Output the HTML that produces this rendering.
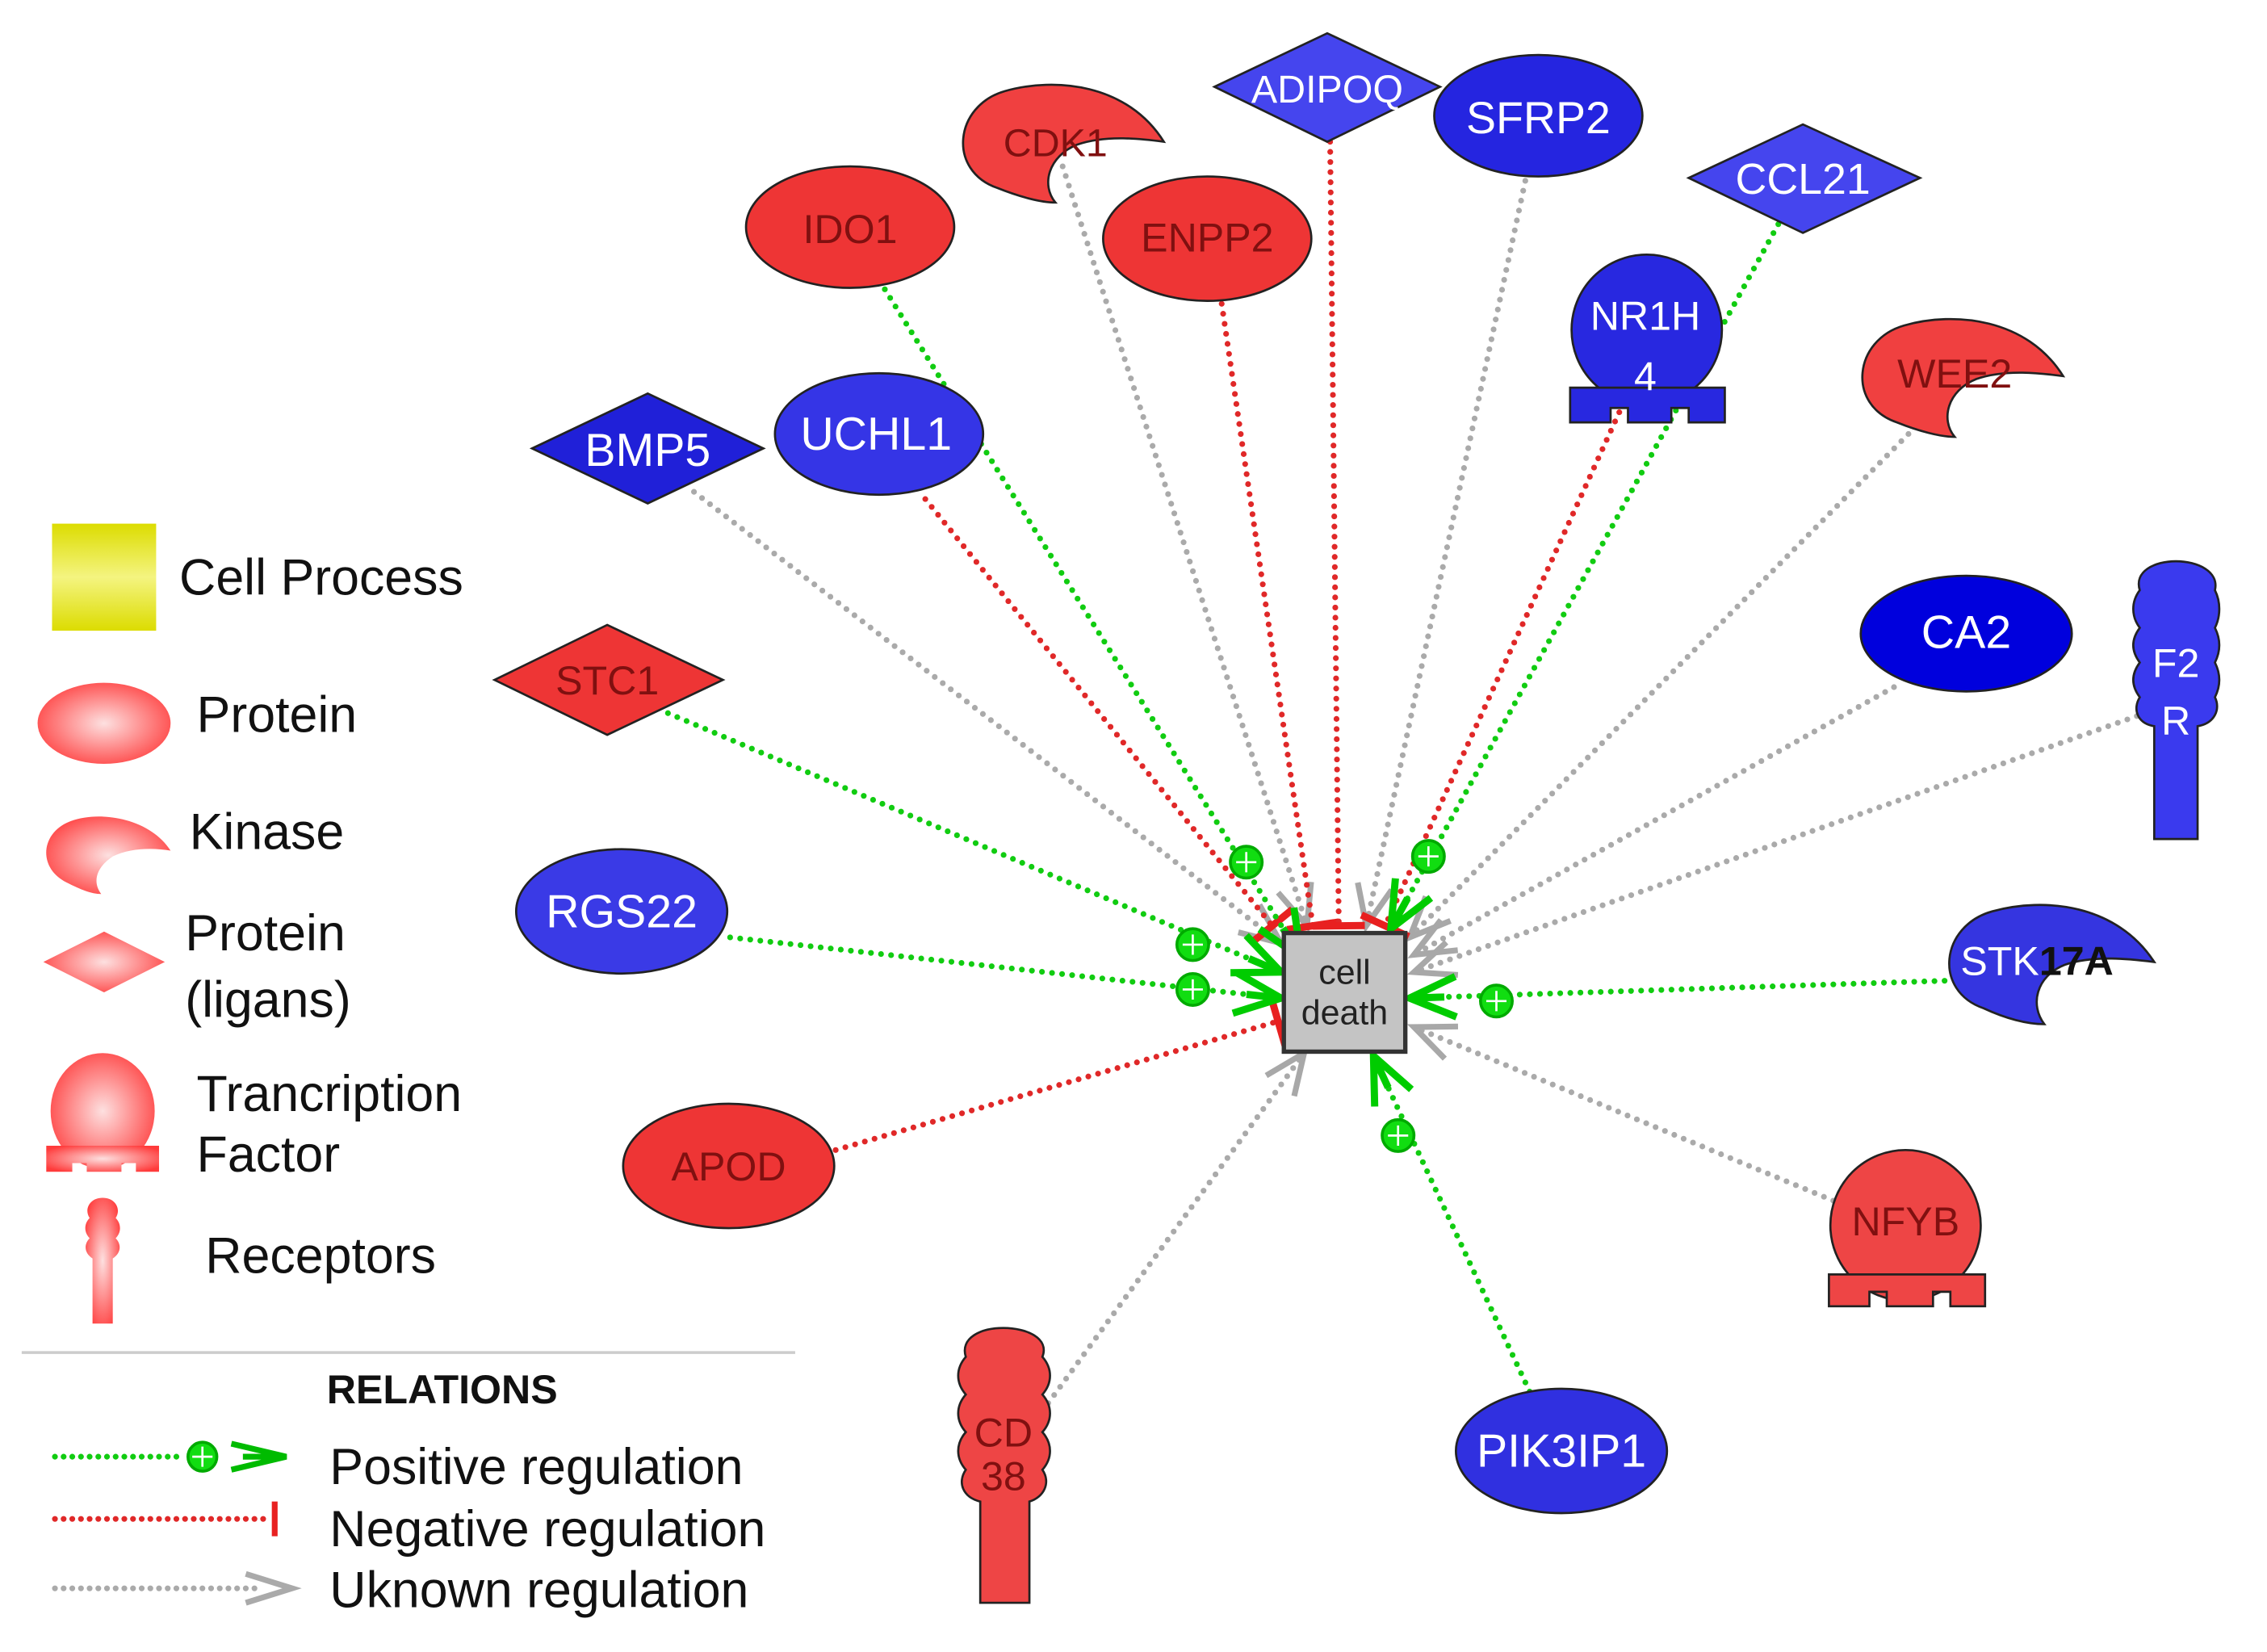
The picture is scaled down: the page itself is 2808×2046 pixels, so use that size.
<!DOCTYPE html>
<html><head><meta charset="utf-8"><style>
html,body{margin:0;padding:0;background:#fff;}
svg{display:block;}
text{font-family:"Liberation Sans Narrow","Liberation Sans",sans-serif;}
.lg{font-family:"Liberation Sans",sans-serif;fill:#111;}
</style></head><body>
<svg width="2808" height="2046" viewBox="0 0 1568 1142" preserveAspectRatio="none" xmlns="http://www.w3.org/2000/svg">
<defs>
<radialGradient id="rg" cx="50%" cy="50%" r="60%"><stop offset="0" stop-color="#fde0e0"/><stop offset="1" stop-color="#ff3b3b"/></radialGradient>
<linearGradient id="yg" x1="0" y1="0" x2="0" y2="1"><stop offset="0" stop-color="#dcdc00"/><stop offset=".5" stop-color="#f4f480"/><stop offset="1" stop-color="#dcdc00"/></linearGradient>
<marker id="ga" markerUnits="userSpaceOnUse" markerWidth="40" markerHeight="40" refX="34" refY="16" orient="auto" overflow="visible">
<path d="M2,2 L34,16 L2,30 M10,16 L34,16" fill="none" stroke="#0c0" stroke-width="5"/></marker>
<marker id="ya" markerUnits="userSpaceOnUse" markerWidth="40" markerHeight="40" refX="30" refY="14" orient="auto" overflow="visible">
<path d="M2,2 L30,14 L2,26" fill="none" stroke="#a8a8a8" stroke-width="4"/></marker>
<marker id="rt" markerUnits="userSpaceOnUse" markerWidth="10" markerHeight="40" refX="3" refY="18" orient="auto" overflow="visible">
<path d="M3,0 L3,36" stroke="#e82020" stroke-width="5"/></marker>
</defs>

<g fill="none" stroke-width="4" stroke-dasharray="0 7" stroke-linecap="round">
<line x1="480" y1="340" x2="886" y2="652" stroke="#aaa" marker-end="url(#ya)"/>
<line x1="735" y1="115" x2="904" y2="640" stroke="#aaa" marker-end="url(#ya)"/>
<line x1="1055" y1="125" x2="945" y2="640" stroke="#aaa" marker-end="url(#ya)"/>
<line x1="1320" y1="300" x2="975" y2="648" stroke="#aaa" marker-end="url(#ya)"/>
<line x1="1310" y1="475" x2="978" y2="660" stroke="#aaa" marker-end="url(#ya)"/>
<line x1="1478" y1="495" x2="978" y2="672" stroke="#aaa" marker-end="url(#ya)"/>
<line x1="1268" y1="830" x2="978" y2="710" stroke="#aaa" marker-end="url(#ya)"/>
<line x1="725" y1="970" x2="902" y2="728" stroke="#aaa" marker-end="url(#ya)"/>
<line x1="640" y1="345" x2="880" y2="640" stroke="#e02828" marker-end="url(#rt)"/>
<line x1="845" y1="210" x2="908" y2="640" stroke="#e02828" marker-end="url(#rt)"/>
<line x1="920" y1="98" x2="926" y2="640" stroke="#e02828" marker-end="url(#rt)"/>
<line x1="1120" y1="285" x2="958" y2="640" stroke="#e02828" marker-end="url(#rt)"/>
<line x1="578" y1="795" x2="884" y2="706" stroke="#e02828" marker-end="url(#rt)"/>
<line x1="612" y1="200" x2="900" y2="662" stroke="#1c1" marker-end="url(#ga)"/>
<line x1="1230" y1="155" x2="962" y2="642" stroke="#1c1" marker-end="url(#ga)"/>
<line x1="1345" y1="678" x2="975" y2="690" stroke="#1c1" marker-end="url(#ga)"/>
<line x1="1058" y1="962" x2="950" y2="730" stroke="#1c1" marker-end="url(#ga)"/>
<line x1="505" y1="648" x2="886" y2="690" stroke="#1c1" marker-end="url(#ga)"/>
<line x1="462" y1="493" x2="886" y2="672" stroke="#1c1" marker-end="url(#ga)"/>
</g>
<g fill="#1d1" stroke="#0a0" stroke-width="2">
<circle cx="862" cy="596" r="11"/><circle cx="988" cy="592" r="11"/><circle cx="1035" cy="692" r="11"/>
<circle cx="967" cy="785" r="11"/><circle cx="825" cy="684" r="11"/><circle cx="825" cy="653" r="11"/>
</g>
<g stroke="#fff" stroke-width="1.5">
<path d="M862,589v14M855,596h14M988,585v14M981,592h14M1035,685v14M1028,692h14M967,778v14M960,785h14M825,677v14M818,684h14M825,646v14M818,653h14"/>
</g>

<rect x="888" y="645" width="84" height="82" fill="#c4c4c4" stroke="#333" stroke-width="3"/>
<text x="930" y="680" font-size="24" text-anchor="middle" fill="#222" font-family="Liberation Sans,sans-serif">cell</text>
<text x="930" y="708" font-size="24" text-anchor="middle" fill="#222" font-family="Liberation Sans,sans-serif">death</text>

<g stroke="#222" stroke-width="1.5">
<polygon points="840,60 918,23 996,60 918,98" fill="#4545ee"/>
<ellipse cx="1064" cy="80" rx="72" ry="42" fill="#2525e0"/>
<path transform="translate(660,58)" d="M145,40 C120,0 70,-5 35,5 C0,15 -5,60 30,72 C45,78 60,82 70,82 C60,70 65,50 85,42 C105,35 130,38 145,40 Z" fill="#f04040"/>
<ellipse cx="588" cy="157" rx="72" ry="42" fill="#ee3535"/>
<ellipse cx="835" cy="165" rx="72" ry="43" fill="#ee3535"/>
<polygon points="1168,123 1247,86 1328,123 1247,161" fill="#4545ee"/>
<g transform="translate(1086,176)" fill="#2828e0"><circle cx="53" cy="52" r="52"/><path d="M0,92 H107 V116 H82 V106 H70 V116 H40 V106 H28 V116 H0 Z"/></g>
<path transform="translate(1282,220)" d="M145,40 C120,0 70,-5 35,5 C0,15 -5,60 30,72 C45,78 60,82 70,82 C60,70 65,50 85,42 C105,35 130,38 145,40 Z" fill="#f04040"/>
<polygon points="368,310 448,272 528,310 448,348" fill="#2020d8"/>
<ellipse cx="608" cy="300" rx="72" ry="42" fill="#3535e6"/>
<polygon points="342,470 420,432 500,470 420,508" fill="#ee3535"/>
<ellipse cx="1360" cy="438" rx="73" ry="40" fill="#0000dd"/>
<path d="M1490,580 V502 C1478,500 1475,490 1480,482 C1474,474 1474,466 1480,458 C1474,450 1474,442 1480,434 C1474,426 1474,416 1480,408 C1476,395 1490,388 1505,388 C1520,388 1535,395 1532,408 C1536,416 1536,426 1532,434 C1536,442 1536,450 1532,458 C1536,466 1536,474 1532,482 C1536,490 1532,500 1520,502 V580 Z" fill="#3a3aee"/>
<ellipse cx="430" cy="630" rx="73" ry="43" fill="#3a3ae6"/>
<path transform="translate(1342,625)" d="M148,40 C122,0 72,-5 36,5 C0,15 -5,60 30,72 C45,79 60,83 72,83 C62,70 66,50 86,42 C106,35 132,38 148,40 Z" fill="#3535e0"/>
<ellipse cx="504" cy="806" rx="73" ry="43" fill="#ee3535"/>
<g transform="translate(1265,795)" fill="#ee4545"><circle cx="53" cy="52" r="52"/><path d="M0,86 H108 V108 H84 V98 H72 V108 H40 V98 H28 V108 H0 Z"/></g>
<path d="M678,1108 V1038 C666,1035 662,1025 668,1016 C661,1008 661,998 668,990 C661,982 661,972 668,964 C661,956 661,946 668,938 C664,925 678,918 694,918 C710,918 726,925 721,938 C728,946 728,956 721,964 C728,972 728,982 721,990 C728,998 728,1008 721,1016 C727,1025 722,1035 712,1038 V1108 Z" fill="#ee4545"/>
<ellipse cx="1080" cy="1003" rx="73" ry="43" fill="#3030e0"/>
</g>
<g font-size="30" text-anchor="middle">
<text x="918" y="71" fill="#fff" font-size="27">ADIPOQ</text>
<text x="1064" y="92" fill="#fff" font-size="31">SFRP2</text>
<text x="730" y="108" fill="#801010" font-size="27">CDK1</text>
<text x="588" y="168" fill="#801010" font-size="28">IDO1</text>
<text x="835" y="174" fill="#801010" font-size="28">ENPP2</text>
<text x="1247" y="134" fill="#fff">CCL21</text>
<text x="1138" y="228" fill="#fff" font-size="28">NR1H</text>
<text x="1138" y="270" fill="#fff" font-size="28">4</text>
<text x="1352" y="268" fill="#801010" font-size="28">WEE2</text>
<text x="448" y="322" fill="#fff" font-size="32">BMP5</text>
<text x="606" y="311" fill="#fff" font-size="32">UCHL1</text>
<text x="420" y="480" fill="#801010" font-size="28">STC1</text>
<text x="1360" y="448" fill="#fff" font-size="32">CA2</text>
<text x="1505" y="468" fill="#fff" font-size="28">F2</text>
<text x="1505" y="508" fill="#fff" font-size="28">R</text>
<text x="430" y="641" fill="#fff" font-size="32">RGS22</text>
<text x="1356" y="674" fill="#fff" font-size="28" text-anchor="start">STK<tspan fill="#111" font-weight="bold">17A</tspan></text>
<text x="504" y="816" fill="#801010" font-size="28">APOD</text>
<text x="1318" y="854" fill="#801010" font-size="28">NFYB</text>
<text x="694" y="1000" fill="#801010" font-size="28">CD</text>
<text x="694" y="1030" fill="#801010" font-size="28">38</text>
<text x="1080" y="1014" fill="#fff" font-size="32">PIK3IP1</text>
</g>

<rect x="36" y="362" width="72" height="74" fill="url(#yg)"/>
<text class="lg" x="124" y="411" font-size="35">Cell Process</text>
<ellipse cx="72" cy="500" rx="46" ry="28" fill="url(#rg)"/>
<text class="lg" x="136" y="506" font-size="35">Protein</text>
<path transform="translate(28,560)" d="M90,28 C75,5 40,0 20,8 C0,16 -2,40 18,50 C28,55 35,58 42,58 C36,50 38,40 50,32 C62,26 78,26 90,28 Z" fill="url(#rg)"/>
<text class="lg" x="131" y="587" font-size="35">Kinase</text>
<polygon points="30,665 72,644 114,665 72,686" fill="url(#rg)"/>
<text class="lg" x="128" y="657" font-size="35">Protein</text>
<text class="lg" x="128" y="703" font-size="35">(ligans)</text>
<g transform="translate(32,728)" fill="url(#rg)"><ellipse cx="39" cy="40" rx="36" ry="40"/><path d="M0,64 H78 V82 H62 V76 H52 V82 H28 V76 H18 V82 H0 Z"/></g>
<text class="lg" x="136" y="768" font-size="35">Trancription</text>
<text class="lg" x="136" y="810" font-size="35">Factor</text>
<path d="M64,915 V870 C58,866 58,860 62,856 C58,852 58,846 62,842 C58,836 62,828 71,828 C80,828 84,836 80,842 C84,846 84,852 80,856 C84,860 84,866 78,870 V915 Z" fill="url(#rg)"/>
<text class="lg" x="142" y="880" font-size="35">Receptors</text>
<line x1="15" y1="935" x2="550" y2="935" stroke="#ccc" stroke-width="2"/>
<text class="lg" x="226" y="970" font-size="28" font-weight="bold">RELATIONS</text>
<g fill="none" stroke-width="4" stroke-dasharray="0 6" stroke-linecap="round">
<line x1="38" y1="1007" x2="128" y2="1007" stroke="#1c1"/>
<line x1="38" y1="1050" x2="185" y2="1050" stroke="#e02828"/>
<line x1="38" y1="1098" x2="180" y2="1098" stroke="#aaa"/>
</g>
<circle cx="140" cy="1007" r="10" fill="#1d1" stroke="#0a0" stroke-width="2"/>
<path d="M140,1000v14M133,1007h14" stroke="#fff" stroke-width="1.5"/>
<path d="M160,998 L198,1007 L160,1016 M168,1007 L198,1007" fill="none" stroke="#0b0" stroke-width="4"/>
<line x1="190" y1="1038" x2="190" y2="1062" stroke="#e82020" stroke-width="4"/>
<path d="M170,1088 L202,1098 L170,1108" fill="none" stroke="#aaa" stroke-width="4"/>
<text class="lg" x="228" y="1026" font-size="35">Positive regulation</text>
<text class="lg" x="228" y="1069" font-size="35">Negative regulation</text>
<text class="lg" x="228" y="1111" font-size="35">Uknown regulation</text>
</svg>
</body></html>
